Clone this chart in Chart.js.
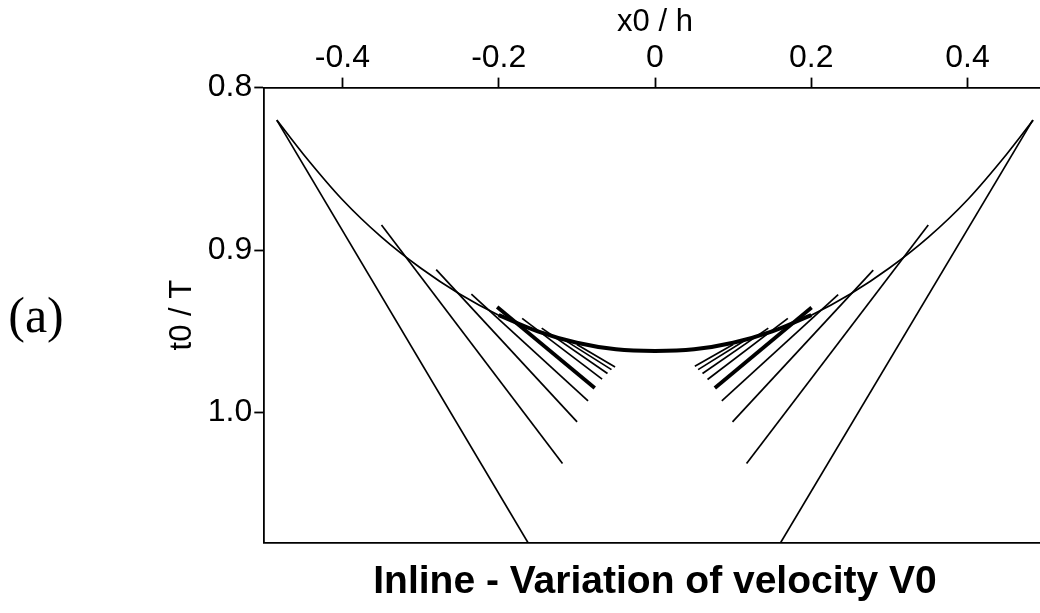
<!DOCTYPE html>
<html>
<head>
<meta charset="utf-8">
<script src="https://cdn.jsdelivr.net/npm/chart.js@4.4.1/dist/chart.umd.min.js"></script>
<style>
  html, body { margin: 0; padding: 0; background: #fff; overflow: hidden; }
  #wrap { width: 1060px; height: 613px; }
</style>
</head>
<body>
<div id="wrap"><canvas id="chart" width="1060" height="613"></canvas></div>
<script>
// axis ticks
const xTicks = [-0.4, -0.2, 0, 0.2, 0.4];
const xTickLabels = ['-0.4', '-0.2', '0', '0.2', '0.4'];
const yTicks = [0.8, 0.9, 1.0];
const yTickLabels = ['0.8', '0.9', '1.0'];

// envelope curve t0/T vs x0/h
const envX = [-0.484, -0.45, -0.40, -0.35, -0.30, -0.25, -0.20, -0.15, -0.10, -0.05, 0,
              0.05, 0.10, 0.15, 0.20, 0.25, 0.30, 0.35, 0.40, 0.45, 0.484];
const envY = [0.820, 0.841, 0.869, 0.892, 0.911, 0.927, 0.940, 0.950, 0.957, 0.961, 0.962,
              0.961, 0.957, 0.950, 0.940, 0.927, 0.911, 0.892, 0.869, 0.841, 0.820];

// rays, left side
const leftStartX = [-0.484, -0.350, -0.280, -0.235, -0.202, -0.170, -0.145, -0.120, -0.100];
const leftStartY = [0.820, 0.8846, 0.912, 0.927, 0.935, 0.942, 0.948, 0.954, 0.958];
const leftEndX = [-0.1625, -0.1184, -0.0997, -0.0857, -0.0771, -0.0677, -0.0608, -0.0557, -0.0511];
const leftEndY = [1.080, 1.0313, 1.0057, 0.9928, 0.9848, 0.9794, 0.9759, 0.9735, 0.9719];

// rays, right side
const rightStartX = [0.4834, 0.3497, 0.2793, 0.2344, 0.2004, 0.170, 0.145, 0.120, 0.100];
const rightStartY = [0.820, 0.8846, 0.9123, 0.9273, 0.9353, 0.942, 0.948, 0.954, 0.958];
const rightEndX = [0.1607, 0.1172, 0.0992, 0.0855, 0.0766, 0.0672, 0.0608, 0.0552, 0.0510];
const rightEndY = [1.080, 1.0313, 1.0057, 0.9928, 0.9848, 0.9796, 0.9759, 0.9735, 0.9714];

const xTitle = 'x0 / h';
const yTitle = 't0 / T';
const chartTitle = 'Inline - Variation of velocity V0';
const panelText = '(a)';

const THICK_RAY = 4;
const SANS = '"Liberation Sans", Arial, Helvetica, sans-serif';

function lineDataset(points, width) {
  return {
    data: points,
    borderColor: '#000',
    borderWidth: width,
    showLine: true,
    pointRadius: 0,
    pointHoverRadius: 0,
    tension: 0,
    borderCapStyle: 'butt'
  };
}

const datasets = [];

const envPoints = envX.map((x, i) => ({ x: x, y: envY[i] }));
const env = lineDataset(envPoints, 1.7);
env.cubicInterpolationMode = 'monotone';
datasets.push(env);

// the middle part of the envelope is drawn heavier
const thickPoints = envPoints.filter(p => Math.abs(p.x) <= 0.2 + 1e-9);
const envThick = lineDataset(thickPoints, 4);
envThick.cubicInterpolationMode = 'monotone';
datasets.push(envThick);

function addRays(sx, sy, ex, ey) {
  sx.forEach((x, i) => {
    datasets.push(lineDataset(
      [{ x: x, y: sy[i] }, { x: ex[i], y: ey[i] }],
      i === THICK_RAY ? 3.8 : 1.7
    ));
  });
}
addRays(leftStartX, leftStartY, leftEndX, leftEndY);
addRays(rightStartX, rightStartY, rightEndX, rightEndY);

const panelLabel = {
  id: 'panelLabel',
  afterDraw(chart) {
    const ctx = chart.ctx;
    ctx.save();
    ctx.font = '50px "Liberation Serif", "Times New Roman", serif';
    ctx.fillStyle = '#000';
    ctx.textAlign = 'center';
    ctx.textBaseline = 'alphabetic';
    ctx.fillText(panelText, 36, 332);
    ctx.restore();
  }
};

new Chart(document.getElementById('chart'), {
  type: 'scatter',
  data: { datasets: datasets },
  plugins: [panelLabel],
  options: {
    responsive: false,
    animation: false,
    layout: { padding: { left: 0, right: 14.3, top: 0, bottom: 0 } },
    plugins: {
      legend: { display: false },
      tooltip: { enabled: false },
      title: {
        display: true,
        text: chartTitle,
        position: 'bottom',
        fullSize: false,
        color: '#000',
        font: { family: SANS, size: 39, weight: 'bold', lineHeight: 1.2 },
        padding: { top: 16, bottom: 7.5 }
      }
    },
    scales: {
      x: {
        type: 'linear',
        position: 'top',
        min: -0.5,
        max: 0.5,
        afterBuildTicks: axis => { axis.ticks = xTicks.map(v => ({ value: v })); },
        afterFit: axis => { axis.height = 87.6; },
        ticks: {
          color: '#000',
          font: { family: SANS, size: 32 },
          padding: 0,
          maxRotation: 0,
          callback: (v) => xTickLabels[xTicks.findIndex(t => Math.abs(t - v) < 1e-9)]
        },
        grid: {
          drawOnChartArea: false,
          drawTicks: true,
          tickLength: 10,
          tickColor: '#000',
          tickWidth: 1.8
        },
        border: { display: true, color: '#000', width: 1.8 },
        title: {
          display: true,
          text: xTitle,
          color: '#000',
          font: { family: SANS, size: 31, lineHeight: 1.2 },
          padding: { top: 4, bottom: 0 }
        }
      },
      xb: {
        type: 'linear',
        position: 'bottom',
        min: -0.5,
        max: 0.5,
        afterFit: axis => { axis.height = 0; },
        ticks: { display: false },
        grid: { drawOnChartArea: false, drawTicks: false },
        border: { display: true, color: '#000', width: 1.8 }
      },
      y: {
        type: 'linear',
        position: 'left',
        reverse: true,
        min: 0.8,
        max: 1.08,
        afterBuildTicks: axis => { axis.ticks = yTicks.map(v => ({ value: v })); },
        afterFit: axis => { axis.width = 264.3; },
        ticks: {
          color: '#000',
          font: { family: SANS, size: 32 },
          padding: 2,
          callback: (v) => yTickLabels[yTicks.findIndex(t => Math.abs(t - v) < 1e-9)]
        },
        grid: {
          drawOnChartArea: false,
          drawTicks: true,
          tickLength: 10,
          tickColor: '#000',
          tickWidth: 1.8
        },
        border: { display: true, color: '#000', width: 1.8 },
        title: {
          display: true,
          text: yTitle,
          color: '#000',
          font: { family: SANS, size: 31, lineHeight: 1.2 },
          padding: { top: 163.4, bottom: 0 }
        }
      }
    }
  }
});
</script>
</body>
</html>
